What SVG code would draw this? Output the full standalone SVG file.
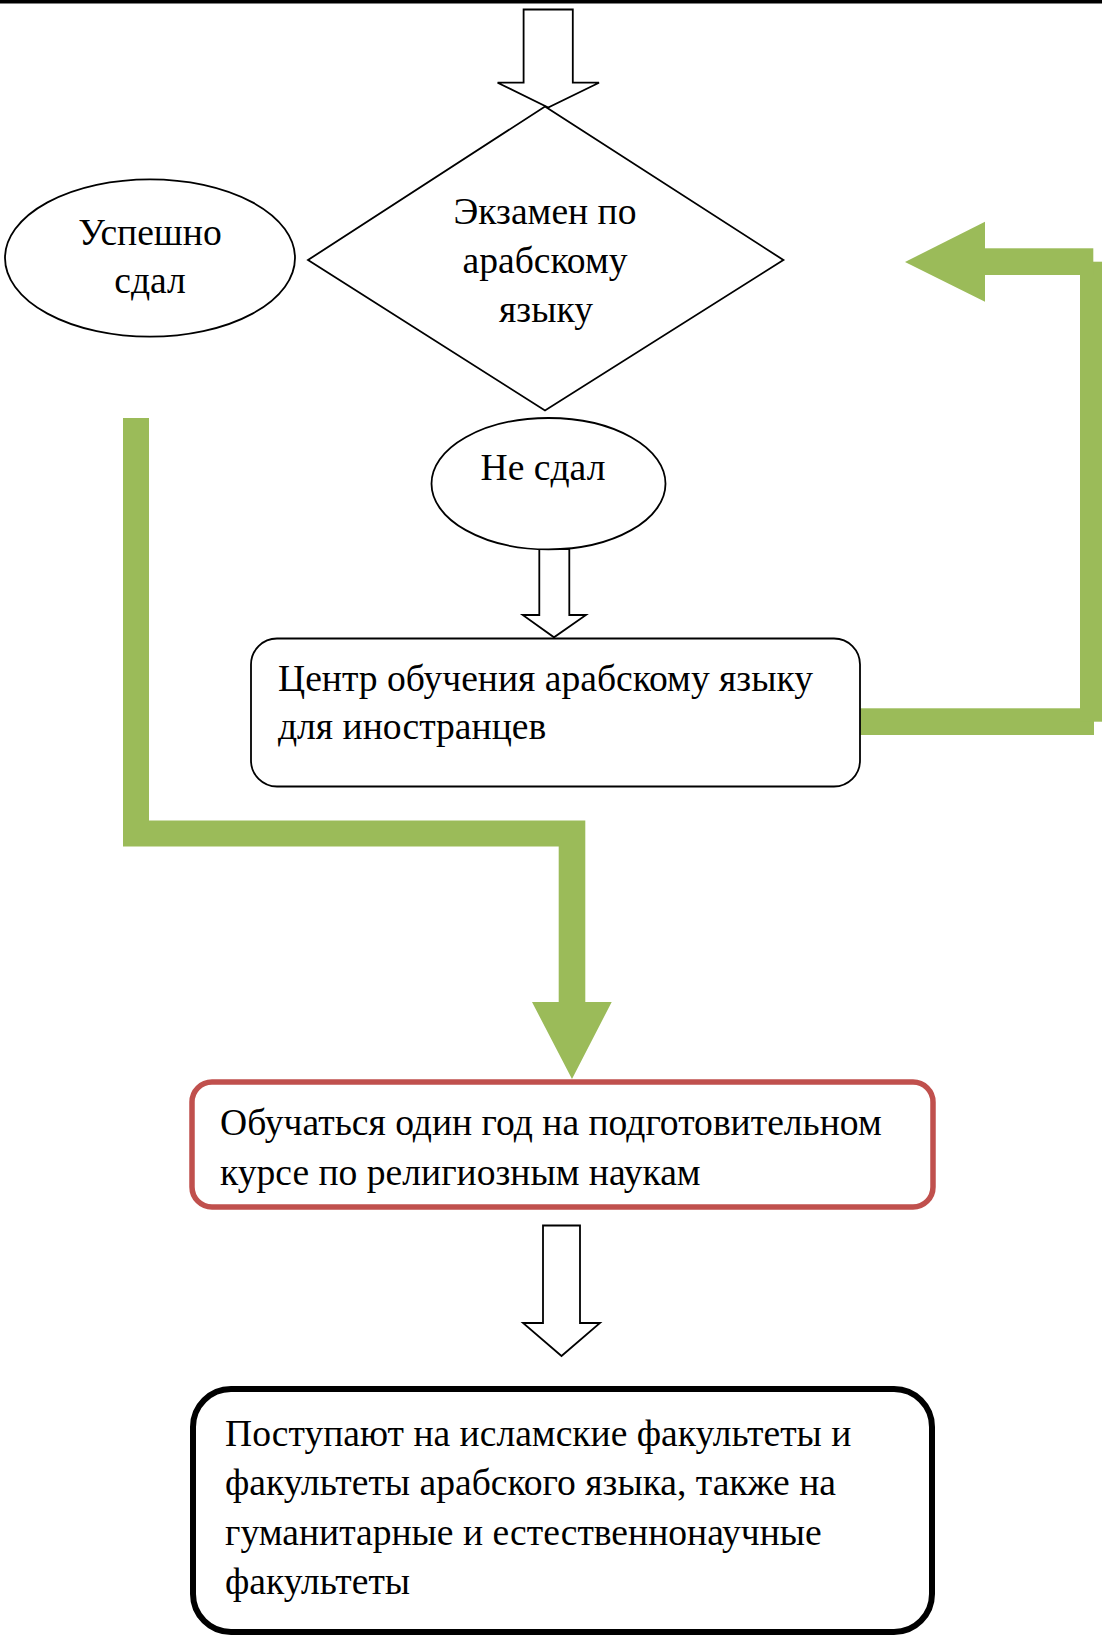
<svg xmlns="http://www.w3.org/2000/svg" width="1102" height="1638" viewBox="0 0 1102 1638">
<style>
text{font-family:"Liberation Serif","Times New Roman",serif;font-size:37.6px;fill:#000}
.c{text-anchor:middle}
.thin{fill:#fff;stroke:#000;stroke-width:1.8}
.blk{fill:#fff;stroke:#000;stroke-width:1.8;stroke-linejoin:miter}
.g{fill:#9BBB59;stroke:none}
</style>
<rect x="0" y="0" width="1102" height="3.5" fill="#000"/>
<g id="connectors">
<polygon class="blk" points="523.6,9.5 572.8,9.5 572.8,82.7 599,82.7 548.2,107.5 497.6,82.7 523.6,82.7"/>
<polygon class="blk" points="539.3,549 569.3,549 569.3,615 586,615 554,637.3 522.7,615 539.3,615"/>
<polygon class="blk" points="543,1225.5 580,1225.5 580,1323 600,1323 561.5,1356 523,1323 543,1323"/>
<polygon class="g" points="123,418 149,418 149,820.5 585.3,820.5 585.3,1002 611.7,1002 572,1079 532,1002 558.7,1002 558.7,846.4 123,846.4"/>
<rect class="g" x="860" y="708.3" width="234" height="26.7"/>
<rect class="g" x="1080" y="261.7" width="22" height="460"/>
<rect class="g" x="984" y="248.3" width="109.3" height="26.7"/>
<polygon class="g" points="905,262 985,221.7 985,301.7"/>
</g>
<g id="exam">
<polygon class="thin" points="545,106.5 783.4,260 545,410.5 308,260"/>
<text class="c" x="545" y="223.5">Экзамен по</text>
<text class="c" x="545" y="273">арабскому</text>
<text class="c" x="546" y="322">языку</text>
</g>
<g id="passed">
<ellipse class="thin" cx="150" cy="258" rx="145" ry="78.7"/>
<text class="c" x="150" y="244.5">Успешно</text>
<text class="c" x="150" y="293.3">сдал</text>
</g>
<g id="failed">
<ellipse class="thin" cx="548.5" cy="483.7" rx="117" ry="65.7"/>
<text class="c" x="543" y="480">Не сдал</text>
</g>
<g id="center">
<rect class="thin" x="251" y="638.5" width="609" height="148" rx="26" ry="26"/>
<text x="278" y="690.5">Центр обучения арабскому языку</text>
<text x="278" y="738.8">для иностранцев</text>
</g>
<g id="prep">
<rect x="192" y="1082" width="741" height="125" rx="20" ry="20" fill="#fff" stroke="#C0504D" stroke-width="5.5"/>
<text x="220" y="1135">Обучаться один год на подготовительном</text>
<text x="220" y="1185">курсе по религиозным наукам</text>
</g>
<g id="faculties">
<rect x="193" y="1389" width="739" height="243" rx="38" ry="38" fill="#fff" stroke="#000" stroke-width="6"/>
<text x="225" y="1446">Поступают на исламские факультеты и</text>
<text x="225" y="1495.4">факультеты арабского языка, также на</text>
<text x="225" y="1544.8">гуманитарные и естественнонаучные</text>
<text x="225" y="1594.2">факультеты</text>
</g>
</svg>
